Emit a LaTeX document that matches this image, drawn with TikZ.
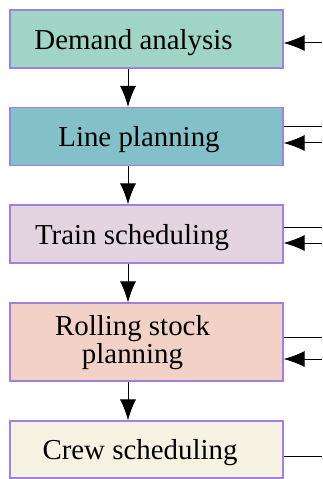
\documentclass[tikz,border=0pt]{standalone}
\usepackage{fontspec}
\setmainfont{Liberation Serif}
\usetikzlibrary{arrows.meta}
\definecolor{edgepurple}{HTML}{A080E0}
\definecolor{fillA}{HTML}{A0D4C4}
\definecolor{fillB}{HTML}{84C0C8}
\definecolor{fillC}{HTML}{E4D4E0}
\definecolor{fillD}{HTML}{F2D2C6}
\definecolor{fillE}{HTML}{F6F2E2}
\tikzset{
  stage/.style={draw=edgepurple, line width=1.2bp, minimum width=273bp, minimum height=58bp,
    inner sep=0pt},
  stagetext/.style={inner sep=0pt, anchor=base, align=center, font=\fontsize{29}{28}\selectfont},
  flow/.style={line width=1bp, -{Latex[length=21bp,width=16bp]}},
  feed/.style={line width=1bp}
}
\begin{document}
\begin{tikzpicture}[x=1bp,y=-1bp]
  \useasboundingbox (0,0) rectangle (322,479);
  % stage boxes
  \node[stage, fill=fillA] (dem) at (146.5,39) {};
  \node[stage, fill=fillB] (line) at (146.5,136.5) {};
  \node[stage, fill=fillC] (train) at (146.5,234) {};
  \node[stage, fill=fillD, minimum height=78bp] (stock) at (146.5,342) {};
  \node[stage, fill=fillE, minimum height=57bp] (crew) at (146.5,449.5) {};
  % stage labels, placed by their (last) baselines
  \node[stagetext] (demT) at (133.5,49.3) {Demand analysis};
  \node[stagetext] (lineT) at (139,147) {Line planning};
  \node[stagetext] (trainT) at (132,244.3) {Train scheduling};
  \node[stagetext] (stockT) at (132.5,363) {Rolling stock\\planning};
  \node[stagetext] (crewT) at (140,459.3) {Crew scheduling};
  % downward flow between stages
  \coordinate (spine) at (128,0);
  \draw[flow] (spine |- dem.south) -- (spine |- line.north);
  \draw[flow] (spine |- line.south) -- (spine |- train.north);
  \draw[flow] (spine |- train.south) -- (spine |- stock.north);
  \draw[flow] (spine |- stock.south) -- (spine |- crew.north);
  % links on the right side
  \coordinate (a1) at (322,43);
  \draw[flow] (a1) -- (dem.east |- a1);
  \coordinate (b1) at (322,127);
  \coordinate (b2) at (322,143);
  \draw[feed] (line.east |- b1) -- (b1);
  \draw[flow] (b2) -- (line.east |- b2);
  \coordinate (c1) at (322,227);
  \coordinate (c2) at (322,243);
  \draw[feed] (train.east |- c1) -- (c1);
  \draw[flow] (c2) -- (train.east |- c2);
  \coordinate (d1) at (322,337);
  \coordinate (d2) at (322,359);
  \draw[feed] (stock.east |- d1) -- (d1);
  \draw[flow] (d2) -- (stock.east |- d2);
  \coordinate (e1) at (322,456);
  \draw[feed] (crew.east |- e1) -- (e1);
\end{tikzpicture}
\end{document}
